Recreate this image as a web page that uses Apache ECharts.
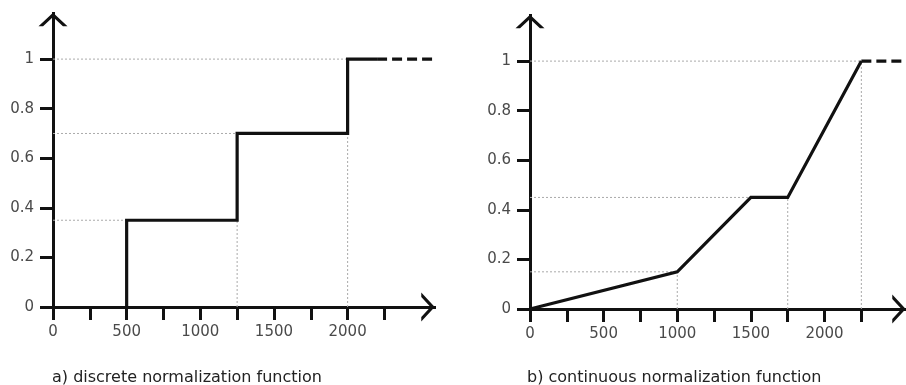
<!DOCTYPE html>
<html>
<head>
<meta charset="utf-8">
<script src="https://cdn.jsdelivr.net/npm/echarts@6/dist/echarts.min.js"></script>
<style>
  html, body { margin: 0; padding: 0; background: #fff; }
  #chart { width: 906px; height: 385px; }
</style>
</head>
<body>
<div id="chart"></div>
<script>
// Discrete normalization: step risers (x) and the level reached at each riser
const discreteX = [500, 1250, 2000];
const discreteY = [0.35, 0.7, 1];
const discreteSolidEnd = 2200;   // solid plateau ends here, dashed afterwards
const discreteAxisMax = 2600;

// Continuous normalization: piecewise-linear knots
const continuousX = [0, 1000, 1500, 1750, 2250];
const continuousY = [0, 0.15, 0.45, 0.45, 1];
const continuousAxisMax = 2560;

// Axis ticks and labels
const xTickValues = [0, 250, 500, 750, 1000, 1250, 1500, 1750, 2000, 2250];
const xLabelValues = [0, 500, 1000, 1500, 2000];
const yTickValues = [0, 0.2, 0.4, 0.6, 0.8, 1];

const titles = ['a) discrete normalization function', 'b) continuous normalization function'];

// Dotted guide lines: [x, y] pairs, horizontal ones from the y axis, vertical from the x axis
const discreteGuidesH = [[500, 0.35], [1250, 0.7], [2000, 1]];
const discreteGuidesV = [[1250, 0.35], [2000, 0.7]];
const continuousGuidesH = [[1000, 0.15], [1500, 0.45], [2250, 1]];
const continuousGuidesV = [[1000, 0.15], [1750, 0.45], [2250, 1]];

const INK = '#111';
const LABEL = '#4a4a4a';
const FONT = 'DejaVu Sans';
// open chevron used as the arrow head at the end of each axis
const CHEVRON = 'path://M14,0 L28,13 L23.6,13 L14,4.1 L4.4,13 L0,13 Z';

function axisLine(size) {
  return {
    show: true,
    onZero: false,
    symbol: ['none', CHEVRON],
    symbolSize: size,
    symbolOffset: [0, -size[1] / 2],
    lineStyle: { color: INK, width: 3, cap: 'butt' }
  };
}

function xAxis(gridIndex, max) {
  return {
    type: 'value', gridIndex, min: 0, max,
    axisLine: axisLine([29, 16]),
    axisTick: { show: true, length: 13, customValues: xTickValues,
                lineStyle: { color: INK, width: 3 } },
    axisLabel: { show: true, customValues: xLabelValues, margin: 18,
                 formatter: v => String(v),
                 color: LABEL, fontFamily: FONT, fontSize: 15 },
    splitLine: { show: false }
  };
}

function yAxis(gridIndex) {
  return {
    type: 'value', gridIndex, min: 0, max: 1.19,
    axisLine: axisLine([29, 15]),
    axisTick: { show: true, length: 13, customValues: yTickValues,
                lineStyle: { color: INK, width: 3 } },
    axisLabel: { show: true, customValues: yTickValues, margin: 19,
                 formatter: v => String(v),
                 color: LABEL, fontFamily: FONT, fontSize: 15 },
    splitLine: { show: false }
  };
}

function guideSeries(idx, hGuides, vGuides) {
  const out = [];
  hGuides.forEach(([x, y]) => out.push([[0, y], [x, y]]));
  vGuides.forEach(([x, y]) => out.push([[x, 0], [x, y]]));
  return out.map(d => ({
    type: 'line', xAxisIndex: idx, yAxisIndex: idx, data: d,
    symbol: 'none', silent: true, z: 1, animation: false,
    lineStyle: { color: '#aaaaaa', width: 1, type: [2, 2] }
  }));
}

// Build the step path from the riser lists
const stepPath = [[discreteX[0], 0]];
discreteX.forEach((x, i) => {
  stepPath.push([x, discreteY[i]]);
  const next = i + 1 < discreteX.length ? discreteX[i + 1] : discreteSolidEnd;
  stepPath.push([next, discreteY[i]]);
});
const lastLevel = discreteY[discreteY.length - 1];
const lastKnot = continuousX.length - 1;

const curve = (idx, data, dashed) => ({
  type: 'line', xAxisIndex: idx, yAxisIndex: idx, data,
  symbol: 'none', z: 5, animation: false, silent: true,
  lineStyle: { color: INK, width: 3.2, type: dashed ? [10, 5] : 'solid', join: 'miter' }
});

const titleStyle = { fontFamily: FONT, fontSize: 16, fontWeight: 'normal', color: '#222' };

const option = {
  backgroundColor: '#fff',
  animation: false,
  title: [
    { text: titles[0], left: 47, top: 365, textStyle: titleStyle },
    { text: titles[1], left: 522, top: 365, textStyle: titleStyle }
  ],
  grid: [
    { left: 53, top: 12, width: 383, height: 295, outerBoundsMode: 'none' },
    { left: 530, top: 14, width: 377, height: 295, outerBoundsMode: 'none' }
  ],
  xAxis: [xAxis(0, discreteAxisMax), xAxis(1, continuousAxisMax)],
  yAxis: [yAxis(0), yAxis(1)],
  series: [
    ...guideSeries(0, discreteGuidesH, discreteGuidesV),
    ...guideSeries(1, continuousGuidesH, continuousGuidesV),
    curve(0, stepPath, false),
    curve(0, [[discreteSolidEnd, lastLevel], [discreteAxisMax, lastLevel]], true),
    curve(1, continuousX.map((x, i) => [x, continuousY[i]]), false),
    curve(1, [[continuousX[lastKnot], continuousY[lastKnot]],
              [continuousAxisMax, continuousY[lastKnot]]], true)
  ]
};

const chart = echarts.init(document.getElementById('chart'), null, { renderer: 'canvas' });
chart.setOption(option);
</script>
</body>
</html>
